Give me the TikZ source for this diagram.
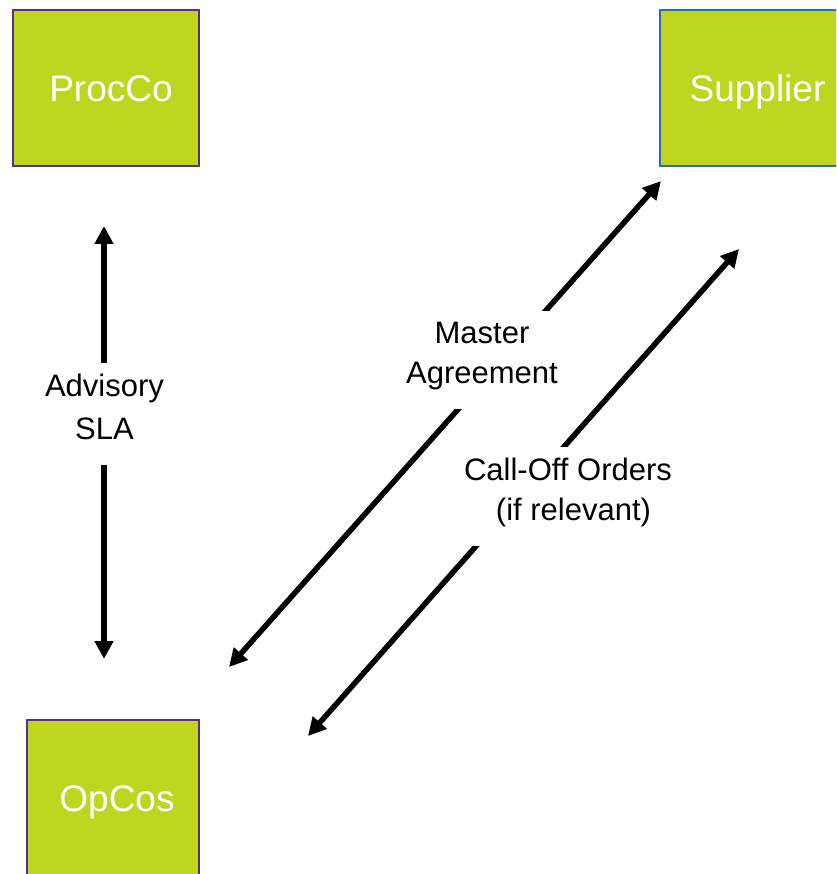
\documentclass[tikz,border=0pt]{standalone}
\usepackage{fontspec}
\setmainfont{Liberation Sans}
\usetikzlibrary{arrows.meta}

\definecolor{lime}{RGB}{190,214,31}
\definecolor{edgepurple}{RGB}{92,45,135}
\definecolor{edgeblue}{RGB}{40,110,175}

\tikzset{
  party/.style={fill=lime, line width=1.5pt, text=white, inner sep=0pt,
    minimum height=156pt, text height=26.5pt, text depth=0pt,
    font=\fontsize{37}{44}\selectfont},
  relation/.style={line width=5.5pt, >={Triangle[length=18pt,width=18pt]}, <->},
  tag/.style={fill=white, align=center, inner xsep=4pt, inner ysep=11pt,
    anchor=north, font=\fontsize{31}{40}\selectfont},
}
% depth added under the last line of a tag, so the white patch reaches lower
\newcommand{\tagfoot}{\rule[-14pt]{0pt}{14pt}}

\begin{document}
\begin{tikzpicture}[x=1pt,y=-1pt]
  \useasboundingbox (0,0) rectangle (836,874);
  \clip (0,0) rectangle (836,874);

  % the three parties
  \node[party, draw=edgepurple, minimum width=186pt] (procco) at (106,88)
    {\hspace*{10pt}ProcCo};
  \node[party, draw=edgeblue, minimum width=186pt] (supplier) at (753,88)
    {\hspace*{9pt}Supplier};
  \node[party, draw=edgepurple, minimum width=172pt] (opcos) at (113,798)
    {\hspace*{8pt}OpCos};

  % arrow ends
  \coordinate (adv-top) at (104,226);
  \coordinate (adv-bot) at (104,659);
  \coordinate (ma-low)  at (229,667);
  \coordinate (ma-high) at (661,181);
  \coordinate (co-low)  at (308,736);
  \coordinate (co-high) at (739,249);

  % relations
  \draw[relation] (adv-top) -- (adv-bot);
  \draw[relation] (ma-low) -- (ma-high);
  \draw[relation] (co-low) -- (co-high);

  % labels sitting on the arrows
  \node[tag] (advisory) at (104.5,363) {Advisory\\[3pt]SLA\tagfoot};
  \node[tag] (master) at (482,311) {Master\\Agreement\tagfoot};
  \node[tag] (calloff) at (568,447)
    {Call-Off Orders\\\hspace*{11pt}(if relevant)\tagfoot};
\end{tikzpicture}
\end{document}
